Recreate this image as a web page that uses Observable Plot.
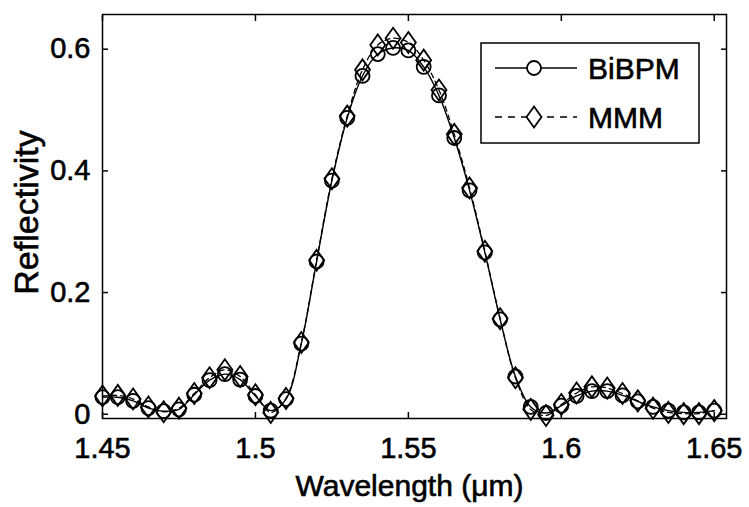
<!DOCTYPE html>
<html>
<head>
<meta charset="utf-8">
<script src="https://cdn.jsdelivr.net/npm/d3@7"></script>
<script src="https://cdn.jsdelivr.net/npm/@observablehq/plot@0.6"></script>
<style>
  html, body { margin: 0; padding: 0; background: #fff; }
  #chart { position: relative; width: 749px; height: 507px; }
  svg { font-family: "Liberation Sans", Arial, Helvetica, sans-serif; }
  svg text { stroke: #000; stroke-width: 0.6px; }
</style>
</head>
<body>
<div id="chart"></div>
<script>
const wavelength = [1.45, 1.455, 1.46, 1.465, 1.47, 1.475, 1.48, 1.485, 1.49, 1.495,
  1.5, 1.505, 1.51, 1.515, 1.52, 1.525, 1.53, 1.535, 1.54, 1.545,
  1.55, 1.555, 1.56, 1.565, 1.57, 1.575, 1.58, 1.585, 1.59, 1.595,
  1.6, 1.605, 1.61, 1.615, 1.62, 1.625, 1.63, 1.635, 1.64, 1.645, 1.65];
const bibpm = [0.028, 0.028, 0.022, 0.010, 0.005, 0.008, 0.032, 0.056, 0.066, 0.057,
  0.030, 0.006, 0.025, 0.116, 0.251, 0.384, 0.487, 0.556, 0.592, 0.602,
  0.598, 0.571, 0.524, 0.454, 0.368, 0.266, 0.156, 0.062, 0.012, 0.002,
  0.014, 0.030, 0.038, 0.038, 0.031, 0.021, 0.012, 0.006, 0.003, 0.003, 0.006];
const mmm = [0.030, 0.031, 0.025, 0.012, 0.004, 0.010, 0.034, 0.060, 0.073, 0.062,
  0.032, 0.003, 0.026, 0.118, 0.253, 0.387, 0.490, 0.566, 0.607, 0.618,
  0.611, 0.582, 0.533, 0.460, 0.372, 0.268, 0.157, 0.060, 0.008, -0.002,
  0.016, 0.035, 0.045, 0.043, 0.034, 0.022, 0.010, 0.003, 0.001, 0.001, 0.006];
const seriesNames = ["BiBPM", "MMM"];
const xTicks = [1.45, 1.5, 1.55, 1.6, 1.65];
const xTickLabels = ["1.45", "1.5", "1.55", "1.6", "1.65"];
const yTicks = [0, 0.2, 0.4, 0.6];
const yTickLabels = ["0", "0.2", "0.4", "0.6"];
const xLabel = "Wavelength (\u03bcm)";
const yLabel = "Reflectivity";

const dataB = wavelength.map((w, i) => ({w, r: bibpm[i]}));
const dataM = wavelength.map((w, i) => ({w, r: mmm[i]}));

const tallDiamond = {
  draw(ctx, size) {
    const r = Math.sqrt(size / Math.PI);
    ctx.moveTo(0, -1.4 * r);
    ctx.lineTo(r, 0);
    ctx.lineTo(0, 1.4 * r);
    ctx.lineTo(-r, 0);
    ctx.closePath();
  }
};

const fmtX = d => xTickLabels[xTicks.indexOf(d)];
const fmtY = d => yTickLabels[yTicks.indexOf(d)];

const plot = Plot.plot({
  width: 749,
  height: 507,
  marginLeft: 102,
  marginRight: 23,
  marginTop: 14,
  marginBottom: 89,
  style: {fontFamily: '"Liberation Sans", Arial, sans-serif', color: "#000", background: "#fff"},
  x: {domain: [1.45, 1.654]},
  y: {domain: [-0.007, 0.657]},
  marks: [
    Plot.line(dataB, {x: "w", y: "r", stroke: "#000", strokeWidth: 1.4, curve: "catmull-rom"}),
    Plot.line(dataM, {x: "w", y: "r", stroke: "#000", strokeWidth: 1.3, strokeDasharray: "5,4", curve: "catmull-rom"}),
    Plot.dot(dataB, {x: "w", y: "r", r: 7, stroke: "#000", strokeWidth: 1.8, fill: "none"}),
    Plot.dot(dataM, {x: "w", y: "r", r: 7.5, symbol: tallDiamond, stroke: "#000", strokeWidth: 1.8, fill: "none"}),
    Plot.frame({stroke: "#000", strokeWidth: 1.5}),
    // inward ticks on all sides
    Plot.axisX(xTicks, {anchor: "bottom", tickSize: -6, text: null, label: null, strokeWidth: 1.5}),
    Plot.axisX(xTicks, {anchor: "top", tickSize: -6, text: null, label: null, strokeWidth: 1.5}),
    Plot.axisY(yTicks, {anchor: "left", tickSize: -6, text: null, label: null, strokeWidth: 1.5}),
    Plot.axisY(yTicks, {anchor: "right", tickSize: -6, text: null, label: null, strokeWidth: 1.5}),
    // tick labels
    Plot.axisX(xTicks, {anchor: "bottom", tickSize: 0, tickPadding: 19, tickFormat: fmtX, fontSize: 29, label: null}),
    Plot.axisY(yTicks, {anchor: "left", tickSize: 0, tickPadding: 12, tickFormat: fmtY, fontSize: 29, label: null}),
    // axis titles
    Plot.text([xLabel], {frameAnchor: "bottom", dy: 77, dx: -5, fontSize: 30, fill: "#000", textAnchor: "middle"}),
    Plot.text([yLabel], {frameAnchor: "left", dx: -75, dy: -4, rotate: -90, fontSize: 34, fill: "#000", textAnchor: "middle"})
  ]
});

document.getElementById("chart").appendChild(plot);

// Legend (MATLAB style box, inside the axes)
const svg = d3.select(plot);
const lg = svg.append("g").attr("class", "legend");
const box = {x: 481, y: 43, w: 218, h: 100};
lg.append("rect").attr("x", box.x).attr("y", box.y).attr("width", box.w).attr("height", box.h)
  .attr("fill", "#fff").attr("stroke", "#000").attr("stroke-width", 1.5);
const rows = [68, 117];
seriesNames.forEach((name, i) => {
  const cy = rows[i];
  lg.append("line").attr("x1", 495).attr("x2", 577).attr("y1", cy).attr("y2", cy)
    .attr("stroke", "#000").attr("stroke-width", 1.4)
    .attr("stroke-dasharray", i === 1 ? "7,6" : null);
  if (i === 0) {
    lg.append("circle").attr("cx", 534).attr("cy", cy).attr("r", 7)
      .attr("fill", "#fff").attr("stroke", "#000").attr("stroke-width", 1.8);
  } else {
    const r = 7.5;
    lg.append("path").attr("d", `M534,${cy - 1.4 * r}L${534 + r},${cy}L534,${cy + 1.4 * r}L${534 - r},${cy}Z`)
      .attr("fill", "#fff").attr("stroke", "#000").attr("stroke-width", 1.8);
  }
  lg.append("text").attr("x", 588).attr("y", cy).attr("dy", "0.36em")
    .attr("text-anchor", "start")
    .attr("font-size", 30).attr("fill", "#000").text(name);
});
</script>
</body>
</html>
